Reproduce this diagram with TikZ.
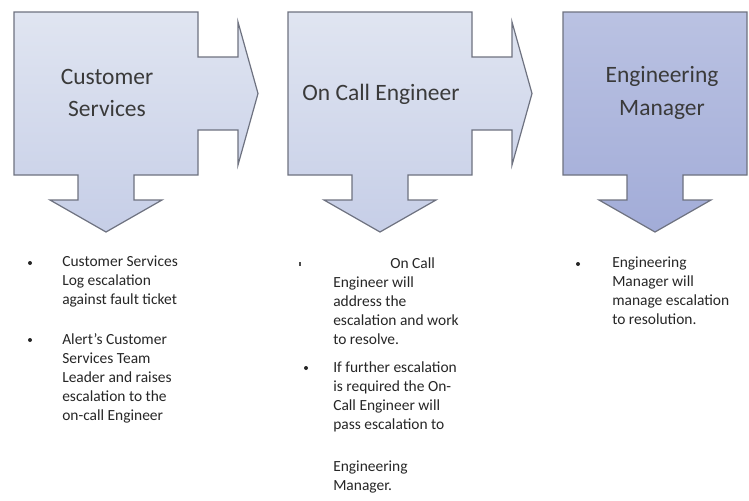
\documentclass[tikz,border=0pt]{standalone}
\usepackage{fontspec}
\setmainfont{Carlito}

\definecolor{paleTop}{HTML}{E0E5F1}
\definecolor{paleBot}{HTML}{C6CEE7}
\definecolor{deepTop}{HTML}{BAC2E2}
\definecolor{deepBot}{HTML}{A2ACD8}
\definecolor{edge}{HTML}{6E7280}
\definecolor{ink}{HTML}{3A3A3A}

\tikzset{
  stage/.style={draw=edge, line width=0.9pt, line join=miter},
  pale/.style={top color=paleTop, bottom color=paleBot},
  deep/.style={top color=deepTop, bottom color=deepBot},
  title/.style={font=\fontsize{17.6}{24.5}\selectfont, text=ink, align=center, inner sep=0pt},
  notes/.style={font=\fontsize{11.6}{14.25}\selectfont, text=black!85, align=left, anchor=north west, inner sep=0pt},
  dot/.style={circle, fill=black!85, inner sep=0pt, minimum size=3pt},
}

\begin{document}
\begin{tikzpicture}[x=0.75pt, y=-0.75pt]
  \useasboundingbox (0,0) rectangle (749,500);

  % First two stages: box, arrow to the right, arrow down
  \foreach \l in {14, 288}{
    \draw[stage, pale] (\l,12) -- ++(184,0) -- ++(0,45) -- ++(40,0) -- ++(0,-35)
      -- ++(20,71.5) -- ++(-20,71.5) -- ++(0,-35) -- ++(-40,0) -- ++(0,45)
      -- ++(-64,0) -- ++(0,25) -- ++(28,0) -- ++(-56,32) -- ++(-56,-32)
      -- ++(28,0) -- ++(0,-25) -- ++(-64,0) -- cycle;
  }

  % Last stage: box and arrow down only
  \draw[stage, deep] (563,12) -- ++(184,0) -- ++(0,163)
    -- ++(-64,0) -- ++(0,25) -- ++(28,0) -- ++(-56,32) -- ++(-56,-32)
    -- ++(28,0) -- ++(0,-25) -- ++(-64,0) -- cycle;

  % Stage titles
  \node[title] (cs) at (107,93) {Customer\\Services};
  \node[title] (oce) at (381,94) {On Call Engineer};
  \node[title] (em) at (662,93) {Engineering\\Manager};

  % Customer services notes
  \node[dot] (b1) at (30,263) {};
  \node[notes] (n1) at (62,256) {Customer Services\\Log escalation\\against fault ticket};
  \node[dot] (b2) at (30,340) {};
  \node[notes] (n2) at (62,333) {Alert's Customer\\Services Team\\Leader and raises\\escalation to the\\on-call Engineer};

  % On call engineer notes
  \node[fill=black!70, inner sep=0pt, minimum width=0.8pt, minimum height=3.5pt] (b3) at (300,264) {};
  \node[notes] (n3a) at (390,257) {On Call};
  \node[notes] (n3) at (333,276) {Engineer will\\address the\\escalation and work\\to resolve.};
  \node[dot] (b4) at (306,368) {};
  \node[notes] (n4) at (333,361) {If further escalation\\is required the On-\\Call Engineer will\\pass escalation to};
  \node[notes] (n4b) at (333,461) {Engineering\\Manager.};

  % Engineering manager notes
  \node[dot] (b5) at (578,264) {};
  \node[notes] (n5) at (612,257) {Engineering\\Manager will\\manage escalation\\to resolution.};
\end{tikzpicture}
\end{document}
